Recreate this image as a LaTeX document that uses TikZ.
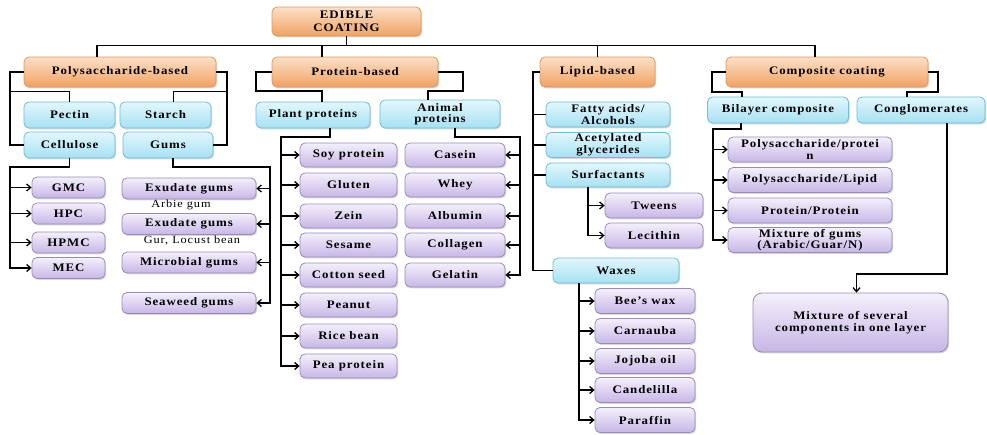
\documentclass[tikz,border=0pt]{standalone}
\usepackage{fontspec}
\setmainfont{Liberation Serif}[FakeStretch=1.12,LetterSpace=8]
\usetikzlibrary{arrows.meta,shadows,calc}
\definecolor{oTop}{HTML}{FCE0C8}
\definecolor{oBot}{HTML}{F0A262}
\definecolor{oLine}{HTML}{DE985C}
\definecolor{bTop}{HTML}{E2F7FD}
\definecolor{bBot}{HTML}{A6E1F3}
\definecolor{bLine}{HTML}{6CBFD8}
\definecolor{vTop}{HTML}{F4F0FB}
\definecolor{vBot}{HTML}{C7B6E6}
\definecolor{vLine}{HTML}{9A8ABB}
\tikzset{
  basebox/.style={rounded corners=5pt, line width=0.8pt, align=center,
    font=\fontsize{11.5}{11.5}\selectfont\bfseries, inner sep=1pt,
    drop shadow={opacity=0.3, shadow xshift=1.2pt, shadow yshift=-1.4pt}},
  obox/.style={basebox, draw=oLine, top color=oTop, bottom color=oBot},
  bbox/.style={basebox, draw=bLine, top color=bTop, bottom color=bBot},
  vbox/.style={basebox, draw=vLine, top color=vTop, bottom color=vBot},
  conn/.style={draw=black, line width=1.3pt},
  arr/.style={conn, -{Straight Barb[length=4pt,width=7pt]}},
  lab/.style={font=\fontsize{11}{11}\selectfont, inner sep=0pt}
}
\begin{document}
\begin{tikzpicture}[x=1pt,y=-1pt]
\useasboundingbox (0,0) rectangle (987,434);
% level 0 and 1
\node[obox, minimum width=149, minimum height=29, font=\fontsize{11.5}{12.5}\selectfont\bfseries] (root) at (346.5,21.5) {EDIBLE\\COATING};
\node[obox, minimum width=192, minimum height=30] (poly) at (120,72) {Polysaccharide-based};
\node[obox, minimum width=166, minimum height=30] (prot) at (355,72) {Protein-based};
\node[obox, minimum width=115, minimum height=30] (lip) at (597.5,72) {Lipid-based};
\node[obox, minimum width=202, minimum height=30] (comp) at (827,72) {Composite coating};
% polysaccharide
\node[bbox, minimum width=91, minimum height=26] (pect) at (69.5,115) {Pectin};
\node[bbox, minimum width=91, minimum height=26] (starch) at (165.5,115) {Starch};
\node[bbox, minimum width=91, minimum height=26] (cell) at (69.5,145) {Cellulose};
\node[bbox, minimum width=90, minimum height=26] (gums) at (168,145) {Gums};
\node[vbox, minimum width=73, minimum height=21] (gmc) at (68.5,187.5) {GMC};
\node[vbox, minimum width=73, minimum height=21] (hpc) at (68.5,213.5) {HPC};
\node[vbox, minimum width=73, minimum height=21] (hpmc) at (68.5,242.5) {HPMC};
\node[vbox, minimum width=73, minimum height=21] (mec) at (68.5,268) {MEC};
\node[vbox, minimum width=134, minimum height=21] (ex1) at (189,188.5) {Exudate gums};
\node[lab] (arbie) at (181,205) {Arbie gum};
\node[vbox, minimum width=134, minimum height=21] (ex2) at (189,224) {Exudate gums};
\node[lab] (gur) at (192,241) {Gur, Locust bean};
\node[vbox, minimum width=134, minimum height=21] (micro) at (189,262.5) {Microbial gums};
\node[vbox, minimum width=134, minimum height=21] (sea) at (189,303) {Seaweed gums};
% protein
\node[bbox, minimum width=114, minimum height=26] (plant) at (313,115) {Plant proteins};
\node[bbox, minimum width=120, minimum height=28] (anim) at (440,114) {Animal\\proteins};
\node[vbox, minimum width=97, minimum height=24] (soy) at (348.5,155) {Soy protein};
\node[vbox, minimum width=97, minimum height=24] (glut) at (348.5,185) {Gluten};
\node[vbox, minimum width=97, minimum height=24] (zein) at (348.5,216) {Zein};
\node[vbox, minimum width=97, minimum height=24] (ses) at (348.5,245) {Sesame};
\node[vbox, minimum width=97, minimum height=24] (cot) at (348.5,275) {Cotton seed};
\node[vbox, minimum width=97, minimum height=24] (pean) at (348.5,305) {Peanut};
\node[vbox, minimum width=97, minimum height=24] (rice) at (348.5,336) {Rice bean};
\node[vbox, minimum width=97, minimum height=24] (pea) at (348.5,366) {Pea protein};
\node[vbox, minimum width=100, minimum height=24] (cas) at (455,155) {Casein};
\node[vbox, minimum width=100, minimum height=24] (whey) at (455,185) {Whey};
\node[vbox, minimum width=100, minimum height=24] (alb) at (455,216) {Albumin};
\node[vbox, minimum width=100, minimum height=24] (coll) at (455,245) {Collagen};
\node[vbox, minimum width=100, minimum height=24] (gel) at (455,275) {Gelatin};
% lipid
\node[bbox, minimum width=124, minimum height=25] (fatty) at (608,114.5) {Fatty acids/\\Alcohols};
\node[bbox, minimum width=124, minimum height=25] (acet) at (608,145) {Acetylated\\glycerides};
\node[bbox, minimum width=124, minimum height=24] (surf) at (608,175) {Surfactants};
\node[vbox, minimum width=98, minimum height=25] (tw) at (654,205.5) {Tweens};
\node[vbox, minimum width=98, minimum height=25] (lec) at (654,235.5) {Lecithin};
\node[bbox, minimum width=126, minimum height=25] (wax) at (616,270.5) {Waxes};
\node[vbox, minimum width=100, minimum height=25] (bee) at (645,301) {Bee's wax};
\node[vbox, minimum width=100, minimum height=25] (carn) at (645,331) {Carnauba};
\node[vbox, minimum width=100, minimum height=25] (jojo) at (645,361) {Jojoba oil};
\node[vbox, minimum width=100, minimum height=25] (cand) at (645,390) {Candelilla};
\node[vbox, minimum width=100, minimum height=25] (para) at (645,420) {Paraffin};
% composite
\node[bbox, minimum width=141, minimum height=26] (bil) at (778,110) {Bilayer composite};
\node[bbox, minimum width=128, minimum height=26] (cong) at (921,110) {Conglomerates};
\node[vbox, minimum width=164, minimum height=25] (pp) at (810,149.5) {Polysaccharide/protei\\n};
\node[vbox, minimum width=164, minimum height=25] (pl) at (810,180) {Polysaccharide/Lipid};
\node[vbox, minimum width=164, minimum height=25] (prpr) at (810,210.5) {Protein/Protein};
\node[vbox, minimum width=164, minimum height=25] (mixg) at (810,240) {Mixture of gums\\(Arabic/Guar/N)};
\node[vbox, minimum width=195, minimum height=59, rounded corners=9pt] (mix) at (850.5,322.5) {Mixture of several\\components in one layer};
% ---- connectors
\draw[conn] (root.south) -- ++(0,10);
\draw[conn] ([xshift=-23pt]poly.north) -- ++(0,-11) -| ([xshift=-12pt]comp.north);
\draw[conn] ([xshift=-33pt]prot.north) -- ++(0,-11);
\draw[conn] (lip.north) -- ++(0,-11);
% polysaccharide
\coordinate (pl0) at (10,72);
\coordinate (pr0) at (227,72);
\draw[conn] (poly.west) -- (pl0) |- (cell.west);
\draw[conn] (pect.north) -- ++(0,-10) -| (pl0);
\draw[conn] (poly.east) -- (pr0) |- (gums.east);
\draw[conn] ([xshift=8pt]starch.north) -- ++(0,-10) -| (pr0);
\coordinate (cv) at (10,167);
\draw[arr] (cell.south) |- (cv) |- (mec.west);
\draw[arr] (cv |- gmc.west) -- (gmc.west);
\draw[arr] (cv |- hpc.west) -- (hpc.west);
\draw[arr] (cv |- hpmc.west) -- (hpmc.west);
\coordinate (gv) at (270,167);
\draw[arr] ([xshift=5pt]gums.south) |- (gv) |- (sea.east);
\draw[arr] (gv |- ex1.east) -- (ex1.east);
\draw[arr] (gv |- ex2.east) -- (ex2.east);
\draw[arr] (gv |- micro.east) -- (micro.east);
% protein
\coordinate (ql) at (256,72);
\coordinate (qr) at (463,72);
\draw[conn] (prot.west) -- (ql) -- ++(0,19) -| ([xshift=9pt]plant.north);
\draw[conn] (prot.east) -- (qr) -- ++(0,19) -| ([xshift=-12pt]anim.north);
\coordinate (pv) at (281,137);
\draw[arr] ([xshift=17pt]plant.south) |- (pv) |- (pea.west);
\foreach \n in {soy,glut,zein,ses,cot,pean,rice}
  \draw[arr] (pv |- \n.west) -- (\n.west);
\coordinate (av) at (520,137);
\draw[arr] ([xshift=15pt]anim.south) |- (av) |- (gel.east);
\foreach \n in {cas,whey,alb,coll}
  \draw[arr] (av |- \n.east) -- (\n.east);
% lipid
\coordinate (lv) at (533,72);
\draw[conn] (lip.west) -- (lv) |- (wax.west);
\foreach \n in {fatty,acet,surf}
  \draw[conn] (lv |- \n.west) -- (\n.west);
\coordinate (sv) at ([xshift=-20pt]surf.south);
\draw[arr] (sv) |- (lec.west);
\draw[arr] (sv |- tw.west) -- (tw.west);
\coordinate (wv) at ([xshift=-37pt]wax.south);
\draw[arr] (wv) |- (para.west);
\foreach \n in {bee,carn,jojo,cand}
  \draw[arr] (wv |- \n.west) -- (\n.west);
% composite
\coordinate (cl) at (712,72);
\coordinate (cr) at (938,72);
\draw[conn] (comp.west) -- (cl) -- ++(0,20) -| ([xshift=-36pt]bil.north);
\draw[conn] (comp.east) -- (cr) -- ++(0,20) -| ([xshift=-14pt]cong.north);
\coordinate (bv) at (713,129);
\draw[arr] ([xshift=-37pt]bil.south) |- (bv) |- (mixg.west);
\foreach \n in {pp,pl,prpr}
  \draw[arr] (bv |- \n.west) -- (\n.west);
\coordinate (cj) at (947,274);
\draw[arr] ([xshift=26pt]cong.south) -- (cj) -| ([xshift=6pt]mix.north);
\end{tikzpicture}
\end{document}
